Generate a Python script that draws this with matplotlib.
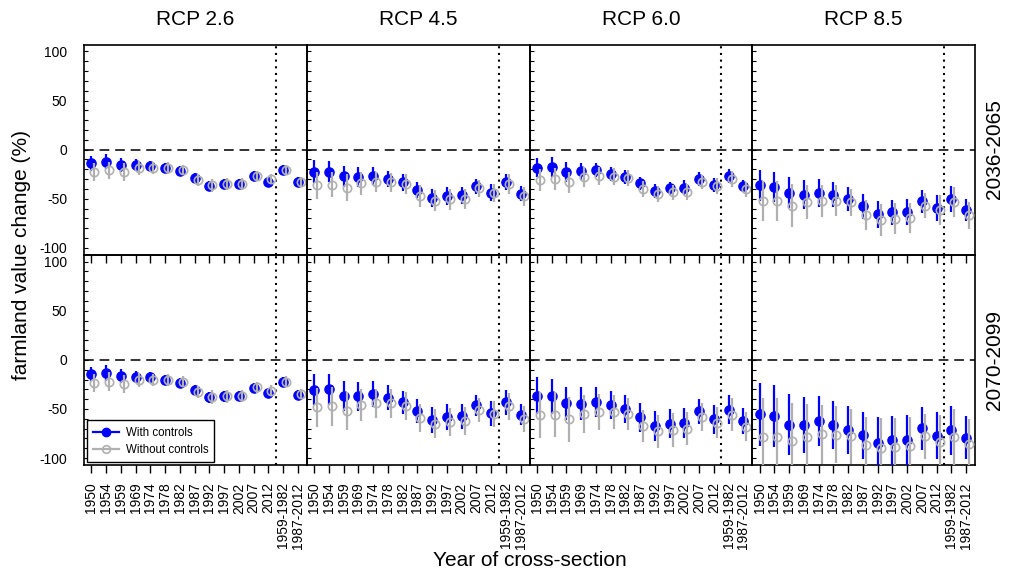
import matplotlib
matplotlib.use('Agg')
import matplotlib.pyplot as plt
from matplotlib.ticker import MultipleLocator, FixedLocator
from matplotlib.lines import Line2D

plt.rcParams['font.family'] = ['Liberation Sans', 'DejaVu Sans']

categories = ["1950", "1954", "1959", "1969", "1974", "1978", "1982", "1987",
              "1992", "1997", "2002", "2007", "2012", "1959-1982", "1987-2012"]
scenarios = ["RCP 2.6", "RCP 4.5", "RCP 6.0", "RCP 8.5"]
periods = ["2036-2065", "2070-2099"]

# ---- 2036-2065 ----
w26_mid = [-14.0, -12.2, -15.3, -16.0, -16.7, -19.0, -21.8, -28.9, -37.0, -35.4, -35.0, -27.2, -32.7, -20.7, -33.3]
w26_mid_err = [7.5, 8.0, 7.0, 6.0, 5.0, 5.0, 5.0, 5.0, 5.0, 5.0, 5.0, 5.0, 5.0, 5.0, 5.0]
wo26_mid = [-22.8, -21.1, -22.8, -19.0, -19.0, -19.0, -20.7, -31.3, -36.4, -35.0, -35.0, -26.5, -29.9, -20.7, -32.7]
wo26_mid_err = [9.0, 9.0, 9.0, 7.0, 6.0, 6.0, 5.0, 6.0, 7.0, 6.0, 6.0, 5.0, 5.0, 5.0, 5.0]

w45_mid = [-22.4, -22.4, -27.2, -27.9, -26.9, -29.9, -33.3, -41.2, -49.3, -47.3, -46.6, -37.4, -43.9, -33.0, -44.9]
w45_mid_err = [11.6, 11.0, 10.5, 10.0, 9.0, 8.5, 8.5, 8.0, 9.5, 9.0, 9.0, 8.0, 8.5, 8.5, 7.5]
wo45_mid = [-36.4, -35.7, -38.8, -34.4, -33.0, -33.3, -35.0, -46.9, -52.0, -50.7, -50.0, -39.5, -44.2, -35.0, -47.6]
wo45_mid_err = [13.6, 13.0, 14.0, 11.4, 10.0, 10.0, 10.5, 11.4, 10.5, 10.5, 10.0, 8.5, 9.4, 9.7, 9.4]

w60_mid = [-18.4, -18.0, -23.1, -22.1, -20.7, -24.5, -27.9, -34.4, -42.2, -39.5, -38.8, -29.9, -36.1, -26.9, -37.4]
w60_mid_err = [9.9, 10.2, 10.2, 8.5, 7.1, 7.0, 6.8, 7.0, 6.8, 6.8, 7.7, 6.8, 7.3, 6.8, 6.0]
wo60_mid = [-31.0, -29.9, -33.3, -28.2, -26.5, -27.6, -29.3, -40.1, -45.2, -43.5, -42.9, -33.0, -37.1, -29.9, -40.5]
wo60_mid_err = [11.0, 11.0, 11.0, 10.2, 9.2, 8.5, 8.2, 8.5, 8.5, 7.8, 8.0, 6.8, 8.0, 8.0, 7.3]

w85_mid = [-36.4, -37.8, -43.9, -46.0, -44.2, -46.0, -50.3, -57.5, -66.0, -63.9, -63.3, -52.7, -59.5, -50.3, -61.2]
w85_mid_err = [15.8, 15.3, 15.6, 14.8, 14.0, 12.8, 12.6, 12.8, 13.6, 13.0, 13.0, 11.6, 13.0, 13.0, 11.0]
wo85_mid = [-52.7, -52.7, -57.1, -53.7, -52.0, -52.0, -53.7, -66.3, -71.4, -70.4, -69.4, -57.1, -61.2, -53.7, -66.7]
wo85_mid_err = [20.4, 20.4, 21.8, 17.3, 16.2, 15.8, 13.6, 15.3, 16.2, 15.6, 15.3, 13.0, 15.3, 15.3, 13.6]

# ---- 2070-2099 ----
w26_late = [-14.5, -13.5, -16.6, -17.6, -17.9, -20.3, -23.1, -30.3, -38.1, -37.1, -36.8, -28.5, -34.0, -22.1, -35.4]
w26_late_err = [7.5, 8.0, 7.0, 6.0, 5.5, 5.0, 5.0, 5.0, 5.5, 5.5, 5.5, 5.0, 5.0, 5.0, 5.0]
wo26_late = [-23.8, -22.1, -24.4, -20.7, -20.7, -20.3, -22.4, -32.6, -38.1, -37.1, -36.8, -27.9, -31.3, -22.1, -34.7]
wo26_late_err = [9.0, 9.5, 9.0, 7.0, 6.0, 6.0, 5.5, 6.0, 7.0, 6.5, 6.5, 5.5, 5.5, 5.5, 5.5]

w45_late = [-30.3, -29.9, -36.4, -37.1, -35.0, -38.5, -43.2, -51.8, -61.0, -58.3, -57.6, -46.3, -54.2, -43.2, -55.6]
w45_late_err = [15.7, 15.7, 15.4, 14.5, 13.2, 12.5, 12.0, 12.0, 13.2, 13.0, 12.8, 11.0, 12.8, 12.6, 10.6]
wo45_late = [-48.4, -47.4, -51.8, -46.0, -44.3, -44.3, -46.7, -59.3, -65.1, -63.4, -62.4, -50.8, -55.2, -47.0, -60.3]
wo45_late_err = [20.0, 19.6, 19.6, 16.6, 14.9, 14.5, 14.2, 14.5, 14.9, 14.5, 14.4, 12.3, 13.2, 13.7, 13.2]

w60_late = [-36.4, -37.1, -44.3, -44.9, -42.6, -46.0, -50.4, -58.6, -67.5, -64.8, -64.1, -52.5, -60.3, -50.8, -62.1]
w60_late_err = [18.8, 18.1, 16.6, 16.8, 15.2, 14.5, 14.2, 14.4, 15.0, 14.9, 15.4, 12.8, 14.7, 14.9, 13.0]
wo60_late = [-56.2, -55.9, -60.3, -55.2, -53.1, -53.1, -55.2, -67.2, -72.6, -71.3, -69.9, -58.3, -63.8, -55.9, -67.9]
wo60_late_err = [23.0, 23.0, 22.9, 19.3, 18.0, 16.9, 16.2, 16.6, 16.6, 17.0, 17.0, 14.0, 16.0, 16.6, 14.9]

w85_late = [-55.2, -57.3, -66.2, -66.5, -62.1, -66.2, -71.3, -76.7, -84.3, -81.9, -81.2, -69.6, -77.4, -71.6, -79.2]
w85_late_err = [32.0, 31.6, 31.0, 28.5, 25.6, 24.3, 24.0, 24.0, 26.0, 25.0, 25.6, 21.7, 24.0, 24.8, 21.7]
wo85_late = [-78.5, -78.5, -82.9, -78.5, -75.7, -76.4, -77.7, -86.7, -89.7, -88.7, -88.0, -77.7, -83.2, -78.5, -85.9]
wo85_late_err = [40.0, 40.0, 39.0, 34.0, 30.0, 29.0, 28.0, 29.0, 31.0, 30.0, 30.0, 23.0, 27.0, 28.5, 25.6]

panels = [
    [(w26_mid, w26_mid_err, wo26_mid, wo26_mid_err),
     (w45_mid, w45_mid_err, wo45_mid, wo45_mid_err),
     (w60_mid, w60_mid_err, wo60_mid, wo60_mid_err),
     (w85_mid, w85_mid_err, wo85_mid, wo85_mid_err)],
    [(w26_late, w26_late_err, wo26_late, wo26_late_err),
     (w45_late, w45_late_err, wo45_late, wo45_late_err),
     (w60_late, w60_late_err, wo60_late, wo60_late_err),
     (w85_late, w85_late_err, wo85_late, wo85_late_err)],
]

BLUE = '#0000ff'
GRAY = '#b0b0b0'

fig = plt.figure(figsize=(10.13, 5.74), dpi=100)
fig.patch.set_facecolor('white')
left, right, top, bottom = 84 / 1013, 975 / 1013, 1 - 44.5 / 574, 1 - 465 / 574
W = (right - left) / 4
H = (top - bottom) / 2

xpos = list(range(1, len(categories) + 1))
xoff = [x + 0.2 for x in xpos]

axes = []
for r in range(2):
    for c in range(4):
        ax = fig.add_axes([left + c * W, top - (r + 1) * H, W, H])
        ax.patch.set_alpha(0)
        wm, we, wom, woe = panels[r][c]
        ax.axhline(0, color='#333333', lw=1.4, dashes=(5, 3), zorder=1)
        ax.axvline(13.5, color='black', lw=1.5, ls=(0, (1, 2.2)), zorder=1)
        ax.errorbar(xpos, wm, yerr=we, fmt='o', color=BLUE, ms=6.6, elinewidth=1.6,
                    capsize=0, zorder=3, label='With controls')
        ax.errorbar(xoff, wom, yerr=woe, fmt='o', color=GRAY, mfc='none', mec=GRAY,
                    mew=1.2, ms=6, elinewidth=1.6, capsize=0, zorder=4,
                    label='Without controls')
        ax.set_xlim(0.5, 15.6)
        ax.set_ylim(-107, 107)
        ax.xaxis.set_major_locator(FixedLocator(xpos))
        ax.yaxis.set_major_locator(MultipleLocator(50))
        ax.yaxis.set_minor_locator(MultipleLocator(10))
        ax.tick_params(axis='x', direction='out', length=5.5, width=1, color='black')
        ax.tick_params(axis='y', which='both', direction='in', length=3, width=0.8,
                       labelsize=10, pad=12)
        for s in ax.spines.values():
            s.set_linewidth(1.2)
            s.set_color('black')
        if r == 1:
            ax.set_xticklabels(categories, rotation=90, fontsize=10)
            ax.tick_params(axis='x', pad=7)
        else:
            ax.set_xticklabels([])
            ax.set_title(scenarios[c], fontsize=15, pad=14)
        if c == 0:
            ax.set_yticks([-100, -50, 0, 50, 100])
            ax.set_yticklabels(['-100', '-50', '0', '50', '100'])
        else:
            ax.set_yticklabels([])
        axes.append(ax)

leg_handles = [
    Line2D([], [], color=BLUE, marker='o', ms=6, lw=1.6),
    Line2D([], [], color=GRAY, marker='o', mfc='none', mec=GRAY, mew=1.2, ms=5.5, lw=1.6),
]
leg = axes[4].legend(leg_handles, ['With controls', 'Without controls'], loc='lower left',
                     fontsize=8.3, frameon=True, fancybox=False, framealpha=1,
                     edgecolor='black', handlelength=2.2, borderaxespad=0.25,
                     borderpad=0.55, labelspacing=0.45, handletextpad=0.6)
leg.get_frame().set_linewidth(1.0)

fig.text(0.982, 1 - 149 / 574, periods[0], rotation=90, fontsize=15, ha='center', va='center')
fig.text(0.982, 1 - 359.5 / 574, periods[1], rotation=90, fontsize=15, ha='center', va='center')
fig.text((left + right) / 2, 1 - 560 / 574, 'Year of cross-section', fontsize=15,
         ha='center', va='center')
fig.text(22 / 1013, (top + bottom) / 2, 'farmland value change (%)', fontsize=15,
         rotation=90, ha='center', va='center')

fig.savefig('out.png', dpi=100)
